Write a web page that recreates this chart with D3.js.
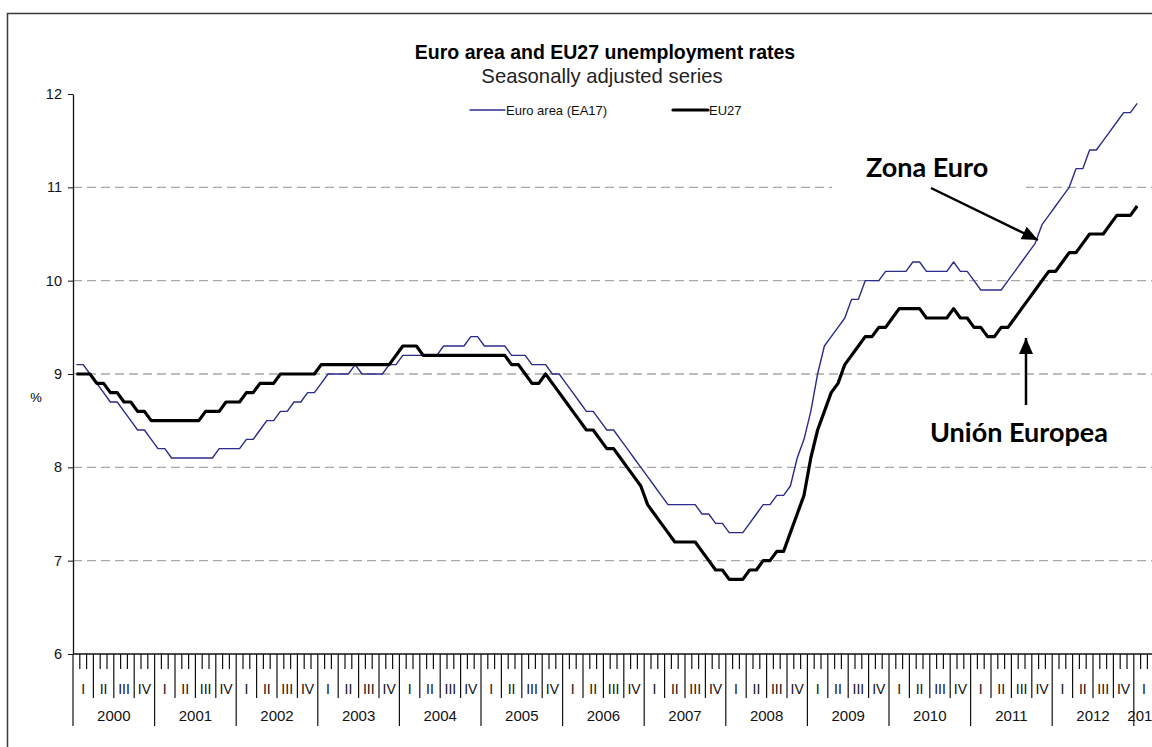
<!DOCTYPE html>
<html>
<head>
<meta charset="utf-8">
<script src="https://cdn.jsdelivr.net/npm/d3@7"></script>
<style>
  body { margin: 0; background: #fff; }
  svg { display: block; }
</style>
</head>
<body>
<div id="vis-container"></div>
<script>
// monthly rates, Jan 2000 .. Jan 2013
let years = ["2000","2001","2002","2003","2004","2005","2006","2007","2008","2009","2010","2011","2012","2013"];
let quarters = ["I","II","III","IV"];
let yTicks = [6, 7, 8, 9, 10, 11, 12];
let gridValues = [7, 8, 9, 10, 11];

let ea17 = [
  9.1, 9.1, 9.0, 8.9, 8.8, 8.7, 8.7, 8.6, 8.5, 8.4,
  8.4, 8.3, 8.2, 8.2, 8.1, 8.1, 8.1, 8.1, 8.1, 8.1,
  8.1, 8.2, 8.2, 8.2, 8.2, 8.3, 8.3, 8.4, 8.5, 8.5,
  8.6, 8.6, 8.7, 8.7, 8.8, 8.8, 8.9, 9.0, 9.0, 9.0,
  9.0, 9.1, 9.0, 9.0, 9.0, 9.0, 9.1, 9.1, 9.2, 9.2,
  9.2, 9.2, 9.2, 9.2, 9.3, 9.3, 9.3, 9.3, 9.4, 9.4,
  9.3, 9.3, 9.3, 9.3, 9.2, 9.2, 9.2, 9.1, 9.1, 9.1,
  9.0, 9.0, 8.9, 8.8, 8.7, 8.6, 8.6, 8.5, 8.4, 8.4,
  8.3, 8.2, 8.1, 8.0, 7.9, 7.8, 7.7, 7.6, 7.6, 7.6,
  7.6, 7.6, 7.5, 7.5, 7.4, 7.4, 7.3, 7.3, 7.3, 7.4,
  7.5, 7.6, 7.6, 7.7, 7.7, 7.8, 8.1, 8.3, 8.6, 9.0,
  9.3, 9.4, 9.5, 9.6, 9.8, 9.8, 10.0, 10.0, 10.0, 10.1,
  10.1, 10.1, 10.1, 10.2, 10.2, 10.1, 10.1, 10.1, 10.1, 10.2,
  10.1, 10.1, 10.0, 9.9, 9.9, 9.9, 9.9, 10.0, 10.1, 10.2,
  10.3, 10.4, 10.6, 10.7, 10.8, 10.9, 11.0, 11.2, 11.2, 11.4,
  11.4, 11.5, 11.6, 11.7, 11.8, 11.8, 11.9
];

let eu27 = [
  9.0, 9.0, 9.0, 8.9, 8.9, 8.8, 8.8, 8.7, 8.7, 8.6,
  8.6, 8.5, 8.5, 8.5, 8.5, 8.5, 8.5, 8.5, 8.5, 8.6,
  8.6, 8.6, 8.7, 8.7, 8.7, 8.8, 8.8, 8.9, 8.9, 8.9,
  9.0, 9.0, 9.0, 9.0, 9.0, 9.0, 9.1, 9.1, 9.1, 9.1,
  9.1, 9.1, 9.1, 9.1, 9.1, 9.1, 9.1, 9.2, 9.3, 9.3,
  9.3, 9.2, 9.2, 9.2, 9.2, 9.2, 9.2, 9.2, 9.2, 9.2,
  9.2, 9.2, 9.2, 9.2, 9.1, 9.1, 9.0, 8.9, 8.9, 9.0,
  8.9, 8.8, 8.7, 8.6, 8.5, 8.4, 8.4, 8.3, 8.2, 8.2,
  8.1, 8.0, 7.9, 7.8, 7.6, 7.5, 7.4, 7.3, 7.2, 7.2,
  7.2, 7.2, 7.1, 7.0, 6.9, 6.9, 6.8, 6.8, 6.8, 6.9,
  6.9, 7.0, 7.0, 7.1, 7.1, 7.3, 7.5, 7.7, 8.1, 8.4,
  8.6, 8.8, 8.9, 9.1, 9.2, 9.3, 9.4, 9.4, 9.5, 9.5,
  9.6, 9.7, 9.7, 9.7, 9.7, 9.6, 9.6, 9.6, 9.6, 9.7,
  9.6, 9.6, 9.5, 9.5, 9.4, 9.4, 9.5, 9.5, 9.6, 9.7,
  9.8, 9.9, 10.0, 10.1, 10.1, 10.2, 10.3, 10.3, 10.4, 10.5,
  10.5, 10.5, 10.6, 10.7, 10.7, 10.7, 10.8
];

let width = 1152, height = 747;
let axisFont = "'Liberation Sans', Arial, sans-serif";
let noteFont = "Lato, 'Open Sans', sans-serif";
let nMonths = 159; // axis runs to end of 2013 Q1 (cut by the picture edge)

let svg = d3.select("#vis-container")
            .append("svg")
            .attr("width", width)
            .attr("height", height);

// frame
svg.append("rect")
  .attr("x", 7.5).attr("y", 13.5)
  .attr("width", 1300).attr("height", 900)
  .attr("fill", "none")
  .attr("stroke", "#3a3a3a")
  .attr("stroke-width", 1.5);

let x = d3.scaleLinear().domain([0, nMonths]).range([73, 73 + nMonths * 6.8]);
let y = d3.scaleLinear().domain([6, 12]).range([654, 94]);

// title
svg.append("text")
  .attr("x", 605).attr("y", 59)
  .attr("text-anchor", "middle")
  .style("font-family", axisFont)
  .style("font-weight", "bold")
  .style("font-size", "19.5px")
  .text("Euro area and EU27 unemployment rates");

svg.append("text")
  .attr("x", 602).attr("y", 83)
  .attr("text-anchor", "middle")
  .style("font-family", axisFont)
  .style("font-size", "20.3px")
  .attr("fill", "#222")
  .text("Seasonally adjusted series");

// gridlines
svg.append("g")
  .selectAll("line")
  .data(gridValues)
  .enter()
  .append("line")
    .attr("x1", x(0)).attr("x2", width)
    .attr("y1", d => y(d)).attr("y2", d => y(d))
    .attr("stroke", "#a8a8a8")
    .attr("stroke-width", 1.3)
    .attr("stroke-dasharray", "9,5");

// y axis
svg.append("g")
  .attr("transform", `translate(${x(0)},0)`)
  .call(d3.axisLeft(y).tickValues(yTicks).tickSize(5).tickSizeOuter(0).tickPadding(6).tickFormat(d3.format("d")))
  .call(g => g.select(".domain").attr("stroke", "#111").attr("stroke-width", 1.3))
  .call(g => g.selectAll(".tick line").attr("stroke", "#111"))
  .call(g => g.selectAll(".tick text")
                .attr("fill", "#111")
                .style("font-family", axisFont)
                .style("font-size", "14.5px"));

svg.append("text")
  .attr("x", 36).attr("y", 402)
  .attr("text-anchor", "middle")
  .style("font-family", axisFont)
  .style("font-size", "13px")
  .text("%");

// x axis: month / quarter / year ticks
let xAxis = svg.append("g");
xAxis.append("line")
  .attr("x1", x(0)).attr("x2", width)
  .attr("y1", y(6)).attr("y2", y(6))
  .attr("stroke", "#111").attr("stroke-width", 1.3);

xAxis.selectAll(".mtick")
  .data(d3.range(0, nMonths + 1))
  .enter()
  .append("line")
    .attr("class", "mtick")
    .attr("x1", d => x(d)).attr("x2", d => x(d))
    .attr("y1", y(6))
    .attr("y2", d => d % 12 === 0 ? 726 : (d % 3 === 0 ? 698 : 669))
    .attr("stroke", "#111")
    .attr("stroke-width", 1.2);

let quarterIdx = d3.range(0, Math.floor(nMonths / 3));
xAxis.selectAll(".qlabel")
  .data(quarterIdx)
  .enter()
  .append("text")
    .attr("class", "qlabel")
    .attr("x", d => x(d * 3 + 1.5))
    .attr("y", 694)
    .attr("text-anchor", "middle")
    .attr("fill", "#111")
    .style("font-family", axisFont)
    .style("font-size", "14px")
    .text(d => quarters[d % 4]);

xAxis.selectAll(".ylabel")
  .data(years)
  .enter()
  .append("text")
    .attr("class", "ylabel")
    .attr("x", (d, i) => x((i * 12 + Math.min(i * 12 + 12, nMonths)) / 2))
    .attr("y", 721)
    .attr("text-anchor", "middle")
    .attr("fill", "#111")
    .style("font-family", axisFont)
    .style("font-size", "15px")
    .text(d => d);

// legend
let legend = [
  {name: "Euro area (EA17)", color: "#2b2b8a", w: 1.4, x: 470},
  {name: "EU27", color: "#000", w: 3.2, x: 673}
];
let lg = svg.append("g").selectAll("g").data(legend).enter().append("g");
lg.append("line")
  .attr("x1", d => d.x).attr("x2", d => d.x + 35)
  .attr("y1", 110).attr("y2", 110)
  .attr("stroke", d => d.color)
  .attr("stroke-width", d => d.w)
  .attr("stroke-linecap", "round");
lg.append("text")
  .attr("x", d => d.x + 36).attr("y", 114.5)
  .style("font-family", axisFont)
  .style("font-size", "13px")
  .attr("fill", "#111")
  .text(d => d.name);

// white box behind the note (it hides part of the 11 gridline)
svg.append("rect")
  .attr("x", 832).attr("y", 150)
  .attr("width", 194).attr("height", 45)
  .attr("fill", "#fff");

// series
let line = d3.line()
  .x((d, i) => x(i + 0.5))
  .y(d => y(d));

svg.append("path")
  .datum(ea17)
  .attr("fill", "none")
  .attr("stroke", "#2b2b8a")
  .attr("stroke-width", 1.4)
  .attr("stroke-linejoin", "round")
  .attr("d", line);

svg.append("path")
  .datum(eu27)
  .attr("fill", "none")
  .attr("stroke", "#000")
  .attr("stroke-width", 3.2)
  .attr("stroke-linejoin", "round")
  .attr("d", line);

// notes with arrows
svg.append("defs").append("marker")
  .attr("id", "head")
  .attr("markerUnits", "userSpaceOnUse")
  .attr("viewBox", "0 0 16 14")
  .attr("refX", 16).attr("refY", 7)
  .attr("markerWidth", 16).attr("markerHeight", 14)
  .attr("orient", "auto")
  .append("path")
    .attr("d", "M0,0L16,7L0,14Z")
    .attr("fill", "#000");

svg.append("text")
  .attr("x", 866).attr("y", 177)
  .style("font-family", noteFont)
  .style("font-weight", "bold")
  .style("font-size", "27px")
  .text("Zona Euro");

svg.append("line")
  .attr("x1", 931).attr("y1", 188)
  .attr("x2", 1038).attr("y2", 240)
  .attr("stroke", "#000").attr("stroke-width", 2.5)
  .attr("marker-end", "url(#head)");

svg.append("text")
  .attr("x", 930).attr("y", 442)
  .style("font-family", noteFont)
  .style("font-weight", "bold")
  .style("font-size", "27px")
  .text("Unión Europea");

svg.append("line")
  .attr("x1", 1026).attr("y1", 405)
  .attr("x2", 1026).attr("y2", 338)
  .attr("stroke", "#000").attr("stroke-width", 2.5)
  .attr("marker-end", "url(#head)");
</script>
</body>
</html>
